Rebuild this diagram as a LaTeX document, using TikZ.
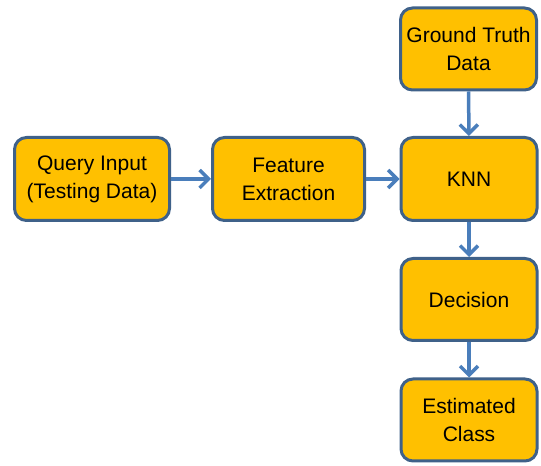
\documentclass[tikz,border=0pt]{standalone}
\usepackage{fontspec}
\setmainfont{Liberation Sans}
\usetikzlibrary{arrows.meta}
\definecolor{boxfill}{HTML}{FFC000}
\definecolor{boxline}{HTML}{3F6189}
\definecolor{arrowc}{HTML}{4A7EBB}
\begin{document}
\begin{tikzpicture}[x=1pt,y=1pt,
  stepbox/.style={draw=boxline, fill=boxfill, line width=3pt, rounded corners=12pt,
    inner sep=0pt, outer sep=0pt, align=center, font=\fontsize{21}{28}\selectfont,
    minimum height=82pt},
  flow/.style={draw=arrowc, line width=3.5pt, -{Straight Barb[length=9pt,width=18pt,line width=3.5pt]}, shorten <=1.5pt, shorten >=1.5pt}]
\useasboundingbox (0,0) rectangle (541,466);
\node[stepbox, minimum width=136pt] (gt) at (468.5,417) {Ground Truth\\Data};
\node[stepbox, minimum width=136pt, minimum height=83pt] (knn) at (469,287) {KNN};
\node[stepbox, minimum width=136pt] (dec) at (469,166.5) {Decision};
\node[stepbox, minimum width=136pt] (est) at (469,46) {Estimated\\Class};
\node[stepbox, minimum width=155pt, minimum height=83pt] (q) at (92,287) {Query Input\\(Testing Data)};
\node[stepbox, minimum width=152pt, minimum height=83pt] (fe) at (288.5,287) {Feature\\Extraction};
\draw[flow] (q) -- (fe);
\draw[flow] (fe) -- (knn);
\draw[flow] (gt) -- (knn);
\draw[flow] (knn) -- (dec);
\draw[flow] (dec) -- (est);
\end{tikzpicture}
\end{document}
